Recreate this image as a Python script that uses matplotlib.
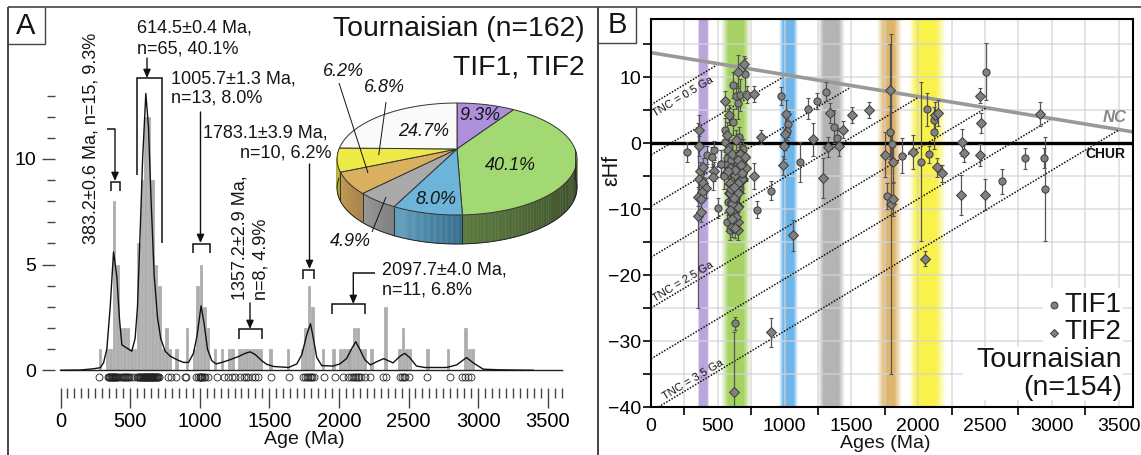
import numpy as np
import matplotlib
matplotlib.use('Agg')
import matplotlib.pyplot as plt
from matplotlib.collections import PolyCollection
from matplotlib.patches import Polygon, Rectangle

plt.rcParams['font.family'] = ['Liberation Sans', 'DejaVu Sans']

W, H = 1141, 455

# panel A: histogram, density curve, single ages
bin_age = [285, 335, 360, 385, 410, 435, 460, 485, 510, 535, 560, 585, 610, 635, 660, 685, 710, 735,
           760, 785, 835, 910, 960, 985, 1010, 1035, 1060, 1110, 1160, 1210, 1235, 1285, 1310, 1335,
           1360, 1385, 1410, 1435, 1510, 1635, 1735, 1760, 1785, 1810, 1885, 1960, 2010, 2035, 2060,
           2085, 2110, 2135, 2160, 2185, 2235, 2335, 2435, 2460, 2485, 2510, 2635, 2785, 2910, 2935, 2960]
bin_count = [1, 1, 1, 8, 5, 2, 2, 2, 1, 1, 6, 9, 12, 12, 9, 5, 4, 1,
             2, 1, 1, 2, 1, 4, 5, 3, 2, 1, 1, 1, 1, 1, 1, 1,
             1, 1, 1, 1, 1, 1, 1, 2, 4, 3, 1, 1, 1, 1, 1,
             1, 2, 2, 1, 1, 1, 3, 1, 2, 1, 1, 1, 1, 2, 1, 1]
curve_age = [0, 141, 237, 285, 309, 333, 357, 381, 405, 424, 441, 477, 512, 536, 553, 572, 590, 613,
             632, 651, 673, 697, 720, 752, 788, 836, 884, 920, 955, 980, 1010, 1032, 1056, 1087, 1118,
             1159, 1219, 1279, 1327, 1362, 1398, 1446, 1482, 1530, 1638, 1698, 1734, 1770, 1796, 1817,
             1841, 1877, 1959, 2007, 2055, 2090, 2121, 2150, 2186, 2227, 2270, 2322, 2389, 2437, 2473,
             2509, 2557, 2617, 2773, 2845, 2917, 2965, 3037, 3157, 3397]
curve_val = [0, 0.01, 0.07, 0.12, 0.35, 1.0, 3.0, 5.6, 4.4, 2.4, 1.2, 1.05, 0.9, 1.5, 3.0, 6.5, 10, 13.1,
             11.5, 8, 4.5, 2.5, 1.5, 0.9, 0.67, 0.5, 0.37, 0.37, 0.8, 1.6, 3.05, 2.2, 1.0, 0.45, 0.3,
             0.37, 0.5, 0.65, 0.8, 0.87, 0.75, 0.45, 0.28, 0.18, 0.13, 0.3, 0.75, 1.7, 2.2, 1.5,
             0.6, 0.22, 0.2, 0.3, 0.55, 1.0, 1.35, 1.0, 0.5, 0.25, 0.4, 0.55, 0.35, 0.65, 0.8,
             0.6, 0.2, 0.13, 0.13, 0.25, 0.6, 0.35, 0.05, 0.02, 0]
single_ages = [278, 340, 346, 352, 358, 362, 368, 372, 376, 380, 384, 388, 392, 398, 404, 412, 428, 440,
               448, 456, 462, 470, 478, 484, 492, 510, 530, 548, 556, 562, 568, 574, 580, 585, 590, 595,
               600, 604, 608, 612, 616, 620, 624, 628, 632, 636, 640, 644, 648, 652, 656, 660, 664, 668,
               672, 676, 680, 684, 690, 696, 702, 710, 775, 792, 830, 895, 905, 975, 990, 1000, 1005,
               1010, 1015, 1020, 1028, 1040, 1060, 1125, 1175, 1200, 1235, 1255, 1290, 1315, 1335, 1350,
               1375, 1395, 1420, 1510, 1640, 1740, 1755, 1770, 1780, 1790, 1800, 1810, 1820, 1890, 1975,
               2030, 2065, 2090, 2100, 2115, 2125, 2135, 2145, 2160, 2190, 2225, 2320, 2335, 2440, 2455,
               2465, 2475, 2500, 2630, 2800, 2885, 2905, 2925, 2950]

# pie, clockwise from the top
pie_share = [9.3, 40.1, 8.0, 4.9, 6.2, 6.8, 24.7]
pie_top = ['#ad8fdc', '#a3d973', '#6cb4d8', '#aaaaaa', '#d9b060', '#eeea48', '#fafafa']
pie_side_a = ['#7d66a0', '#2e3d20', '#336b8c', '#7c7c7c', '#a8834a', '#a8a030', '#dddddd']
pie_side_b = ['#7d66a0', '#5d7a40', '#5f9fbf', '#999999', '#c49a55', '#c0b840', '#dddddd']

# panel B: TIF1 circles
tif1_age = [270, 417, 454, 474, 501, 521, 546, 561, 566, 554, 556, 616, 616, 706, 636, 666, 651, 641, 654,
            616, 571, 796, 896, 970, 1028, 1015, 1118, 1175, 1240, 1307, 1372, 1390, 626, 1769, 1789, 1804,
            1881, 2018, 2083, 2068, 2120, 2115, 2508, 2629, 2801, 2943, 2953, 524, 549, 609, 584, 620, 600,
            640, 660, 690, 575, 595]
tif1_eps = [-1.4, -1.8, -2.1, -1.1, -9.8, -3.1, -4.9, -3.2, -2.3, 2.0, 0.2, 3.2, 8.8, 10.4, 7.1, 7.3, 6.1, -5.1, -6.2,
            -10.3, -11.9, -10.1, -7.2, 7.1, 2.9, 1.9, -2.9, 5.2, 6.4, 7.8, 2.5, 0.8, -27.3, -8.0, 1.6, -0.2,
            -1.9, -2.8, -1.7, 5.1, 3.5, 1.6, 10.8, -5.8, -2.3, -2.3, -7.0, -3.1, -5.0, -8.1, -0.6, -6.8, -2.6,
            -8.4, 0.9, -0.9, -8.9, -13.2]
tif1_err = [1.5, 1.3, 1.5, 1.4, 1.5, 2.0, 2.0, 1.5, 1.5, 1.8, 1.5, 2.0, 2.0, 2.5, 2.0, 2.4, 2.5, 2.0, 2.0,
            1.8, 1.5, 1.3, 1.4, 1.4, 2.0, 1.5, 3.0, 1.6, 1.2, 1.4, 2.5, 1.5, 1.0, 2.0, 4.0, 2.0,
            2.7, 12.1, 1.3, 2.5, 2.0, 2.5, 4.3, 1.9, 1.6, 1.5, 7.9, 2.0, 2.0, 2.0, 1.5, 2.0, 1.5,
            2.0, 1.5, 1.5, 2.0, 1.5]

# panel B: TIF2 diamonds
tif2_age = [362, 357, 349, 367, 392, 360, 392, 412, 379, 349, 374, 374, 474, 462, 566, 556, 586, 654, 696, 716,
            773, 826, 634, 579, 604, 666, 703, 654, 709, 629, 686, 591, 586, 649, 604, 649, 616, 773, 1008,
            1003, 998, 990, 1215, 1285, 1340, 1325, 1405, 1435, 1502, 1632, 1060, 619, 898, 1789, 1796, 1754,
            1814, 1963, 2125, 2145, 2140, 2177, 1809, 2048, 2326, 2341, 2324, 2466, 2469, 2462, 2499, 2910,
            591, 591, 591, 629, 684, 654, 649, 666, 703, 604, 624, 649, 624, 654, 609, 649, 610, 640,
            575, 600, 625, 655, 630, 605, 590, 670, 680, 620]
tif2_eps = [2.0, -0.4, -11.0, -4.3, -3.7, -5.5, -6.1, -6.8, -7.4, -8.1, -8.5, -10.4, -4.3, -5.1, 1.2, 6.4, 4.2, 10.8, 12.0, 7.3,
            7.4, 0.9, 0.45, -1.1, -1.6, -1.5, -2.1, -3.1, -3.8, -4.8, -5.5, -6.2, -7.5, -7.4, -8.9, -9.5, -10.9, -5.0, 4.4,
            1.4, -0.4, -3.4, 0.6, -5.3, 4.5, -0.6, -0.5, 2.0, 4.3, 5.0, -14.0, -37.7, -28.7, 8.0, -9.2, -1.8,
            -2.9, -1.4, 4.2, 4.6, -3.7, -4.6, -8.5, -17.5, 0.1, -1.5, -7.9, 7.2, 3.0, -1.8, -7.8, 4.4,
            -3.8, -6.1, -7.6, -4.1, -5.4, -6.1, -7.5, -1.6, -2.1, -8.9, -10.0, -9.7, -12.1, -11.9, -12.7, -13.2, -9.3, -11.2,
            -4.2, -7.0, -8.4, -2.6, -12.9, -11.5, -10.2, -3.4, -4.6, -6.6]
tif2_err = [2.3, 1.5, 14.0, 1.5, 1.5, 1.5, 1.5, 1.5, 1.5, 1.5, 1.5, 1.5, 1.5, 2.0, 2.0, 1.5, 1.5, 2.5, 1.2, 1.3,
            1.2, 1.1, 1.5, 1.5, 1.5, 1.5, 2.0, 2.0, 2.0, 1.5, 2.0, 1.5, 1.5, 1.5, 2.0, 1.5, 1.5, 2.0, 2.2,
            2.5, 2.0, 1.5, 2.5, 3.0, 1.5, 1.5, 1.5, 1.3, 1.2, 1.2, 2.4, 9.0, 2.2, 7.0, 25.8, 3.4,
            3.0, 2.6, 2.0, 2.0, 1.4, 1.3, 2.5, 1.2, 2.0, 1.3, 3.0, 1.2, 1.5, 1.7, 2.4, 1.8,
            1.5, 2.0, 2.0, 1.5, 1.5, 2.0, 1.5, 2.0, 1.5, 2.0, 1.5, 1.5, 1.5, 1.5, 1.5, 1.5, 2.0, 1.5,
            1.5, 2.0, 2.0, 1.5, 1.5, 2.0, 1.5, 2.0, 2.0, 1.5]

# depleted mantle evolution lines and reference lines
tnc_x0 = [0, 0, 0, 0, 0, 0, 55]
tnc_y0 = [5.8, -1.8, -9.6, -17.3, -25.0, -32.7, -40]
tnc_x1 = [491, 990, 1490, 2000, 2507, 2987, 3495]
tnc_y1 = [11.8, 10.0, 8.4, 6.9, 5.3, 3.5, 1.9]
nc_x = [0, 3606]
nc_y = [13.7, 1.7]

# age bands: colour, outer left, inner left, inner right, outer right
band_color = ['#b9a6dc', '#a6d264', '#6db6ea', '#b4b4b4', '#dfb56c', '#f9f24a']
band_edges = [[350, 358, 415, 425], [525, 580, 690, 745], [955, 985, 1060, 1090],
              [1250, 1290, 1400, 1445], [1695, 1750, 1825, 1880], [1930, 1985, 2130, 2205]]


def px_axes(left, right, top, bottom):
    return fig.add_axes([left / W, 1 - bottom / H, (right - left) / W, (bottom - top) / H])


fig = plt.figure(figsize=(W / 100, H / 100), dpi=100)

# ---- panel A ----
axa = px_axes(55, 570, 85, 388)
axa.patch.set_alpha(0)
axa.set_xlim((55 - 60.5) / 0.1392, (570 - 60.5) / 0.1392)
axa.set_ylim(-0.84, 13.5)
for s in axa.spines.values():
    s.set_visible(False)
axa.bar(bin_age, bin_count, width=18, color='#aeaeae', edgecolor='#9c9c9c', linewidth=0.4)
axa.plot([0, 3600], [0, 0], color='#222222', lw=1)
axa.plot(curve_age, curve_val, color='#111111', lw=1.0)
axa.plot(single_ages, [-0.32] * len(single_ages), 'o', ms=5, mfc='none', mec='#222222', mew=0.6, clip_on=False)
axa.set_yticks([0, 5, 10])
axa.set_yticks(range(14), minor=True)
axa.set_xticks(range(0, 3501, 500))
axa.set_xticks(range(0, 3601, 50), minor=True)
axa.tick_params(axis='y', which='major', length=9.5, width=1, color='#444444', labelsize=14, pad=4)
axa.tick_params(axis='y', which='minor', length=5.8, width=1, color='#444444')
axa.tick_params(axis='x', which='major', length=14.4, width=1, color='#444444', labelsize=14.5, pad=3)
axa.tick_params(axis='x', which='minor', length=7.2, width=1, color='#444444')

# ---- panel B ----
axb = px_axes(651, 1132.7, 19, 407)
axb.set_axisbelow(False)
for c, e in zip(band_color, band_edges):
    xs = np.linspace(e[0], e[3], 120)
    alpha = np.interp(xs, e, [0, 1, 1, 0])
    rgba = np.tile(matplotlib.colors.to_rgba(c), (1, 120, 1))
    rgba[0, :, 3] = alpha
    axb.imshow(rgba, extent=(e[0], e[3], -40, 18.8), aspect='auto', zorder=1, interpolation='bilinear')
axb.set_xlim(0, 3606)
axb.set_ylim(-40, 18.8)
for v in range(250, 3501, 250):
    axb.axvline(v, color='#d4d4d4', lw=1.2, alpha=0.75, zorder=2)
for v in range(-35, 16, 5):
    axb.axhline(v, color='#d4d4d4', lw=1.2, alpha=0.75, zorder=2)
# white patches behind the legend block
axb.add_patch(Rectangle((2934, -30.9), 600, 8.9, fc='white', ec='none', zorder=3))
axb.add_patch(Rectangle((2335, -38.9), 1200, 8, fc='white', ec='none', zorder=3))
axb.plot(nc_x, nc_y, color='#999999', lw=2.6, zorder=4)
axb.axhline(0, color='black', lw=2.4, zorder=4)
for a, b, c, d in zip(tnc_x0, tnc_x1, tnc_y0, tnc_y1):
    axb.plot([a, b], [c, d], color='#111111', lw=1.1, ls=(0, (1, 1)), zorder=4)
axb.errorbar(tif1_age, tif1_eps, yerr=tif1_err, fmt='none', ecolor='#555555', elinewidth=0.9, capsize=1.5, capthick=0.8, zorder=5)
axb.errorbar(tif2_age, tif2_eps, yerr=tif2_err, fmt='none', ecolor='#555555', elinewidth=0.9, capsize=1.5, capthick=0.8, zorder=5)
axb.plot(tif1_age, tif1_eps, 'o', ms=5.2, mfc='#808080', mec='#3c3c3c', mew=0.7, zorder=6)
axb.plot(tif2_age, tif2_eps, 'D', ms=4.6, mfc='#808080', mec='#3c3c3c', mew=0.7, zorder=6)
axb.set_xticks(range(0, 3501, 500))
axb.set_xticks([250, 750, 1250, 1750, 2250, 2750, 3250, 3500], minor=True)
axb.set_yticks([-40, -30, -20, -10, 0, 10])
axb.set_yticks(range(-35, 16, 10), minor=True)
axb.tick_params(axis='x', which='major', length=0, labelsize=14, pad=8)
axb.tick_params(axis='x', which='minor', length=5.8, width=1.2)
axb.tick_params(axis='y', which='both', length=6, width=1.2, labelsize=14, pad=1)
for s in axb.spines.values():
    s.set_linewidth(1.5)
    s.set_zorder(7)

# ---- overlay in pixel coordinates: frames, pie, annotations ----
ov = fig.add_axes([0, 0, 1, 1], zorder=10)
ov.set_xlim(0, W)
ov.set_ylim(H, 0)
ov.axis('off')
ov.patch.set_alpha(0)


def line(xs, ys, lw=1.0, color='#111111'):
    ov.plot(xs, ys, color=color, lw=lw, solid_capstyle='butt', solid_joinstyle='miter')


def bracket(x0, x1, top, b0, b1=None):
    line([x0, x0, x1, x1], [b0, top, top, b1 if b1 else b0], lw=1.1)


def arrow(x, y0, y1):
    ov.annotate('', xy=(x, y1), xytext=(x, y0),
                arrowprops=dict(arrowstyle='-|>,head_width=0.22,head_length=0.5', lw=1, color='#111111',
                                shrinkA=0, shrinkB=0))


def text(x, y, s, size=13, ha='left', **kw):
    ov.text(x, y, s, fontsize=size, ha=ha, va='center', color='#151515', **kw)


# frames and panel letters
line([7.5, 7.5], [6.5, 455], lw=1.4, color='#444444')
line([598, 598], [6.5, 455], lw=1.4, color='#444444')
line([7.5, 1141], [6.5, 6.5], lw=1.2, color='#444444')
line([7.5, 45, 45], [44, 44, 6.5], lw=1, color='#444444')
line([598, 635.5, 635.5], [43, 43, 6.5], lw=1, color='#444444')
text(26, 26, 'A', size=21, ha='center')
text(617, 25, 'B', size=21, ha='center')

# pie with a perspective tilt, the apex sits above the ellipse centre
px, py, ra, rb, k, depth = 457, 149, 118, 54.2, 0.1786, 29


def rim(t):
    d = 1 + k * np.cos(t)
    return px + ra * np.sin(t) / d, py - rb * np.cos(t) / d


edges = np.radians(np.cumsum([0] + pie_share) * 3.6)
# side wall first, then the top faces
for i in range(len(pie_share)):
    a0, a1 = max(edges[i], np.pi / 2), min(edges[i + 1], 3 * np.pi / 2)
    if a1 <= a0:
        continue
    ts = np.linspace(a0, a1, 60)
    ca = np.array(matplotlib.colors.to_rgb(pie_side_a[i]))
    cb = np.array(matplotlib.colors.to_rgb(pie_side_b[i]))
    quads, cols = [], []
    for j in range(len(ts) - 1):
        x0, y0 = rim(ts[j])
        x1, y1 = rim(ts[j + 1])
        quads.append([(x0, y0), (x1, y1), (x1, y1 + depth), (x0, y0 + depth)])
        f = j / (len(ts) - 2)
        cols.append(ca + (cb - ca) * f)
    ov.add_collection(PolyCollection(quads, facecolors=cols, edgecolors=cols, linewidths=0.3))
    xe, ye = rim(ts[0])
    line([xe, xe], [ye, ye + depth], lw=0.6, color='#222222')
tb = np.linspace(np.pi / 2, 3 * np.pi / 2, 120)
xb, yb = rim(tb)
ov.plot(xb, yb + depth, color='#222222', lw=0.7)
for i in range(len(pie_share)):
    ts = np.linspace(edges[i], edges[i + 1], 80)
    xs, ys = rim(ts)
    ov.add_patch(Polygon(np.column_stack([np.r_[px, xs], np.r_[py, ys]]), closed=True,
                         fc=pie_top[i], ec='#333333', lw=0.7))

for x, y, s in [(424, 131, '24.7%'), (480, 115, '9.3%'), (510, 166, '40.1%'), (436, 199, '8.0%'),
                (350, 242, '4.9%'), (343, 71, '6.2%'), (384, 88, '6.8%')]:
    text(x, y, s, size=13, ha='center', style='italic')
line([339, 368], [83, 173], lw=0.7)
line([386, 378.7], [102, 155], lw=0.7)
line([386, 372], [197, 232], lw=0.7)

# titles
text(585, 29, 'Tournaisian (n=162)', size=20.4, ha='right')
text(585, 68, 'TIF1, TIF2', size=20.4, ha='right')

# peak labels
text(136.7, 28, '614.5±0.4 Ma,')
text(136.7, 49, 'n=65, 40.1%')
line([136.7, 136.7, 161.7, 161.7], [175, 78, 78, 243], lw=1.1)
arrow(147, 58, 78)

text(171, 79, '1005.7±1.3 Ma,')
text(171, 98, 'n=13, 8.0%')
arrow(200.5, 112, 243)
bracket(193, 209.5, 243.5, 253)

text(203, 133, '1783.1±3.9 Ma,')
text(332, 153, 'n=10, 6.2%', ha='right')
arrow(309.5, 164, 269)
bracket(302.7, 314.3, 269.5, 279)

ov.text(91, 138, '383.2±0.6 Ma, n=15, 9.3%', fontsize=13, rotation=90, ha='center', va='center', color='#151515')
line([107, 115], [129, 129], lw=1.1)
arrow(115, 129, 181)
line([111, 111, 120, 120], [191, 181.5, 181.5, 191], lw=1.1)

ov.text(240, 300, '1357.2±2.9 Ma,', fontsize=13, rotation=90, ha='center', va='bottom', color='#151515')
ov.text(261, 300, 'n=8, 4.9%', fontsize=13, rotation=90, ha='center', va='bottom', color='#151515')
arrow(250, 303, 329)
bracket(239.3, 261.7, 329, 339)

text(381.7, 270, '2097.7±4.0 Ma,')
text(381.7, 290, 'n=11, 6.8%')
line([375, 353.3], [272.7, 272.7], lw=1.1)
arrow(353.3, 272.7, 304)
bracket(332.3, 365, 304, 314)

text(304, 440, 'Age (Ma)', size=14, ha='center')

# panel B texts
text(885, 444, 'Ages (Ma)', size=14, ha='center')
ov.text(612, 170, 'εHf', fontsize=15.5, rotation=90, ha='center', va='center', color='#151515')
for x, y, s in [(683, 97, 'TNC = 0.5 Ga'), (683, 282, 'TNC = 2.5 Ga'), (693, 380, 'TNC = 3.5 Ga')]:
    ov.text(x, y, s, fontsize=8, rotation=31, rotation_mode='anchor', ha='center', va='center', color='#111111')
ov.text(1115, 117, 'NC', fontsize=12, style='italic', weight='bold', color='#888888', ha='center', va='center')
ov.text(1105, 154, 'CHUR', fontsize=10, weight='bold', color='#111111', ha='center', va='center')
text(1121, 305, 'TIF1', size=20, ha='right')
text(1121, 332, 'TIF2', size=20, ha='right')
text(1122, 360, 'Tournaisian', size=20.5, ha='right')
text(1122, 388, '(n=154)', size=20.5, ha='right')
ov.plot([1053.7], [305], 'o', ms=5, mfc='#808080', mec='#3c3c3c', mew=0.7)
ov.plot([1053.7], [333], 'D', ms=4.4, mfc='#808080', mec='#3c3c3c', mew=0.7)

fig.savefig('out.png', dpi=100)
